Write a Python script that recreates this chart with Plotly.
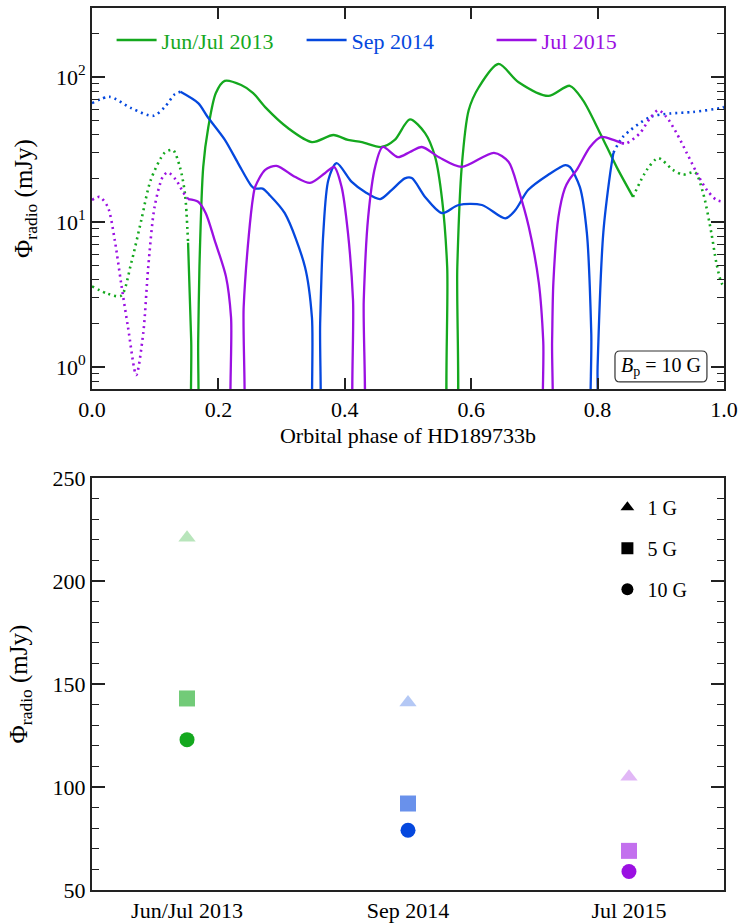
import plotly.graph_objects as go

# ---------------- Top panel data (orbital phase vs radio flux, mJy) ----------------
green_pre_phase = [0.0, 0.025, 0.046, 0.062, 0.078, 0.093, 0.115, 0.128, 0.139, 0.147, 0.152]
green_pre_flux = [3.6, 3.2, 3.1, 5.2, 10.3, 19.5, 30.0, 31.4, 24.0, 15.8, 7.2]
green_phase = [0.152, 0.157, 0.160, 0.165, 0.168, 0.170, 0.176, 0.184, 0.196, 0.210, 0.236,
               0.255, 0.274, 0.310, 0.348, 0.382, 0.405, 0.427, 0.458, 0.479, 0.503, 0.527,
               0.543, 0.554, 0.562, 0.566, 0.574, 0.578, 0.585, 0.596, 0.612, 0.643, 0.675,
               0.722, 0.756, 0.777, 0.804, 0.830, 0.856]
green_flux = [7.2, 1.5, 0.3, 0.3, 1.5, 4.9, 24.0, 45.0, 77.5, 94.0, 88.0,
              77.5, 62.0, 44.5, 35.6, 39.8, 36.8, 35.6, 32.9, 36.8, 51.0, 41.0,
              28.0, 14.2, 4.9, 0.3, 0.3, 4.9, 24.0, 59.0, 85.0, 123.0, 92.0,
              74.0, 87.0, 69.0, 41.0, 24.0, 14.9]
green_post_phase = [0.856, 0.878, 0.896, 0.919, 0.935, 0.954, 0.967, 0.980, 0.988, 0.996, 1.0]
green_post_flux = [14.9, 22.9, 27.6, 22.9, 21.2, 22.0, 15.8, 8.4, 5.2, 3.8, 3.6]

blue_pre_phase = [0.0, 0.028, 0.062, 0.097, 0.115, 0.131, 0.140]
blue_pre_flux = [66.0, 73.0, 61.0, 54.0, 62.0, 76.0, 79.0]
blue_phase = [0.140, 0.168, 0.183, 0.210, 0.231, 0.252, 0.258, 0.270, 0.280, 0.305, 0.337,
              0.348, 0.352, 0.358, 0.361, 0.366, 0.374, 0.387, 0.411, 0.432, 0.456, 0.474,
              0.495, 0.506, 0.527, 0.554, 0.580, 0.617, 0.654, 0.670, 0.690, 0.722, 0.749,
              0.756, 0.772, 0.783, 0.790, 0.792, 0.798, 0.800, 0.809, 0.820, 0.825]
blue_flux = [79.0, 66.0, 53.0, 37.0, 25.5, 17.8, 17.0, 17.0, 15.5, 11.5, 4.9,
             2.2, 0.3, 0.3, 2.0, 8.4, 19.5, 25.5, 18.9, 16.1, 14.4, 16.6,
             20.0, 20.1, 14.9, 11.5, 13.1, 13.1, 10.6, 12.1, 16.6, 21.2, 24.7,
             24.0, 17.4, 8.4, 1.7, 0.3, 0.3, 1.0, 8.4, 21.8, 30.0]
blue_post_phase = [0.825, 0.840, 0.883, 0.915, 0.951, 0.994, 1.0]
blue_post_flux = [30.0, 38.6, 53.0, 56.0, 57.4, 61.0, 62.0]

purple_pre_phase = [0.0, 0.012, 0.025, 0.036, 0.046, 0.057, 0.070, 0.081, 0.089, 0.099, 0.112,
                    0.120, 0.133, 0.144, 0.152]
purple_pre_flux = [14.2, 14.9, 12.7, 7.5, 3.8, 1.88, 0.88, 1.7, 4.9, 12.7, 20.5,
                   22.0, 19.5, 16.1, 14.4]
purple_phase = [0.152, 0.168, 0.180, 0.194, 0.212, 0.220, 0.224, 0.236, 0.240, 0.248, 0.255,
                0.258, 0.274, 0.292, 0.321, 0.345, 0.369, 0.383, 0.395, 0.405, 0.413, 0.417,
                0.427, 0.430, 0.437, 0.448, 0.460, 0.484, 0.503, 0.522, 0.549, 0.585, 0.636,
                0.659, 0.675, 0.691, 0.707, 0.714, 0.717, 0.725, 0.728, 0.730, 0.738, 0.748,
                0.755, 0.767, 0.788, 0.806, 0.825, 0.838]
purple_flux = [14.4, 13.8, 11.5, 7.5, 4.2, 2.2, 0.3, 0.3, 2.6, 8.0, 15.0,
               17.4, 22.9, 24.4, 20.5, 18.6, 21.8, 24.0, 17.4, 8.4, 2.9, 0.3,
               0.3, 2.9, 10.8, 24.0, 32.9, 28.0, 30.4, 32.9, 28.0, 24.0, 30.0,
               26.0, 16.6, 9.3, 3.8, 1.5, 0.3, 0.3, 1.5, 3.8, 10.8, 17.0,
               19.5, 22.9, 32.9, 38.6, 36.8, 35.0]
purple_post_phase = [0.838, 0.846, 0.867, 0.883, 0.896, 0.909, 0.925, 0.941, 0.957, 0.973, 0.988, 1.0]
purple_post_flux = [35.0, 35.0, 41.0, 52.0, 59.0, 53.0, 41.0, 30.0, 21.8, 16.6, 14.2, 13.8]

series_names = ["Jun/Jul 2013", "Sep 2014", "Jul 2015"]

# ---------------- Bottom panel data ----------------
epochs = ["Jun/Jul 2013", "Sep 2014", "Jul 2015"]
flux_1G = [221, 141, 105]
flux_5G = [143, 92, 69]
flux_10G = [123, 79, 59]
field_labels = ["1 G", "5 G", "10 G"]

GREEN = (20, 168, 30)
BLUE = (5, 72, 222)
PURPLE = (155, 16, 226)
colors = [GREEN, BLUE, PURPLE]


def rgba(c, a):
    return f"rgba({c[0]},{c[1]},{c[2]},{a})"


FONT = "Liberation Serif"
DOT = "2px,4px"

fig = go.Figure()

segments = [
    (green_pre_phase, green_pre_flux, green_phase, green_flux, green_post_phase, green_post_flux),
    (blue_pre_phase, blue_pre_flux, blue_phase, blue_flux, blue_post_phase, blue_post_flux),
    (purple_pre_phase, purple_pre_flux, purple_phase, purple_flux, purple_post_phase, purple_post_flux),
]

for name, col, seg in zip(series_names, colors, segments):
    c = rgba(col, 1)
    px0, fx0, px1, fx1, px2, fx2 = seg
    fig.add_trace(go.Scatter(x=px0, y=fx0, mode="lines", showlegend=False,
                             line=dict(color=c, width=2.6, dash=DOT, shape="spline", smoothing=0.8),
                             xaxis="x", yaxis="y"))
    fig.add_trace(go.Scatter(x=px1, y=fx1, mode="lines",
                             name=f'<span style="color:{c}">{name}</span>',
                             line=dict(color=c, width=2.3, shape="spline", smoothing=0.8),
                             xaxis="x", yaxis="y", legend="legend"))
    fig.add_trace(go.Scatter(x=px2, y=fx2, mode="lines", showlegend=False,
                             line=dict(color=c, width=2.6, dash=DOT, shape="spline", smoothing=0.8),
                             xaxis="x", yaxis="y"))

# bottom panel markers
xpos = list(range(len(epochs)))
for vals, sym, alpha in [(flux_1G, "triangle-up", 0.3), (flux_5G, "square", 0.6), (flux_10G, "circle", 1.0)]:
    fig.add_trace(go.Scatter(
        x=xpos, y=vals, mode="markers", showlegend=False,
        marker=dict(symbol=sym, size=15 if sym != "square" else 16,
                    color=[rgba(c, alpha) for c in colors], line=dict(width=0)),
        xaxis="x2", yaxis="y2"))

# legend entries for field strengths
for lab, sym in zip(field_labels, ["triangle-up", "square", "circle"]):
    fig.add_trace(go.Scatter(x=[None], y=[None], mode="markers", name=lab,
                             marker=dict(symbol=sym, size=14, color="black"),
                             xaxis="x2", yaxis="y2", legend="legend2", legendgroup=lab))

axis_common = dict(showline=True, linecolor="#222", linewidth=2, mirror="allticks",
                   ticks="inside", tickcolor="#222", tickwidth=1.5, showgrid=False,
                   zeroline=False, tickfont=dict(family=FONT, size=22, color="black"))

minor_log = [0.8, 0.9] + [k * 1 for k in range(2, 10)] + [k * 10 for k in range(2, 10)] + [200, 300]

fig.update_layout(
    width=741, height=924,
    margin=dict(l=92, r=17, t=8, b=34, autoexpand=False),
    paper_bgcolor="white", plot_bgcolor="white",
    font=dict(family=FONT, size=20, color="black"),
    xaxis=dict(domain=[0, 1], anchor="y", range=[0, 1], tickvals=[0, 0.2, 0.4, 0.6, 0.8, 1.0],
               ticktext=["0.0", "0.2", "0.4", "0.6", "0.8", "1.0"], ticklen=11,
               title=dict(text="Orbital phase of HD189733b", font=dict(family=FONT, size=22), standoff=6),
               **axis_common),
    yaxis=dict(domain=[0.568, 1], anchor="x", type="log", range=[-0.152, 2.476],
               tickvals=[1, 10, 100], ticktext=["10<sup>0</sup>", "10<sup>1</sup>", "10<sup>2</sup>"],
               ticklen=13,
               minor=dict(tickvals=minor_log, ticks="inside", ticklen=7, tickcolor="#222", tickwidth=1.2, showgrid=False),
               title=dict(text="Φ<sub>radio</sub> (mJy)", font=dict(family=FONT, size=25), standoff=16),
               **axis_common),
    xaxis2=dict(domain=[0, 1], anchor="y2", range=[-0.43, 2.43], tickvals=xpos, ticktext=epochs,
                showline=True, linecolor="#222", linewidth=2, mirror=True, ticks="",
                showgrid=False, zeroline=False, tickfont=dict(family=FONT, size=22, color="black")),
    yaxis2=dict(domain=[0, 0.467], anchor="x2", range=[50, 250], tickvals=[50, 100, 150, 200, 250],
                ticklen=13,
                minor=dict(dtick=10, ticks="inside", ticklen=7, tickcolor="#222", tickwidth=1.2, showgrid=False),
                title=dict(text="Φ<sub>radio</sub> (mJy)", font=dict(family=FONT, size=25), standoff=18),
                **axis_common),
    legend=dict(orientation="h", x=0.031, y=0.9873, xanchor="left", yanchor="top",
                bgcolor="rgba(0,0,0,0)", font=dict(family=FONT, size=22),
                entrywidth=135, entrywidthmode="pixels", itemwidth=40),
    legend2=dict(x=0.8155, y=0.456, xanchor="left", yanchor="top", bgcolor="rgba(0,0,0,0)",
                 font=dict(family=FONT, size=20), tracegroupgap=12, itemsizing="constant"),
    annotations=[dict(text="<i>B</i><sub>p</sub> = 10 G", xref="paper", yref="paper",
                      x=0.9, y=0.5935, xanchor="center", yanchor="middle", showarrow=False,
                      font=dict(family=FONT, size=20, color="black"))],
    shapes=[dict(type="path", xref="paper", yref="paper",
                 path="M 0.8355 0.5760 L 0.9650 0.5760 Q 0.9730 0.5760 0.9730 0.5817 L 0.9730 0.6054 "
                      "Q 0.9730 0.6111 0.9650 0.6111 L 0.8355 0.6111 Q 0.8275 0.6111 0.8275 0.6054 "
                      "L 0.8275 0.5817 Q 0.8275 0.5760 0.8355 0.5760 Z",
                 line=dict(color="#333", width=1.2), fillcolor="rgba(255,255,255,0)")],
)

fig.write_html("out.html")
